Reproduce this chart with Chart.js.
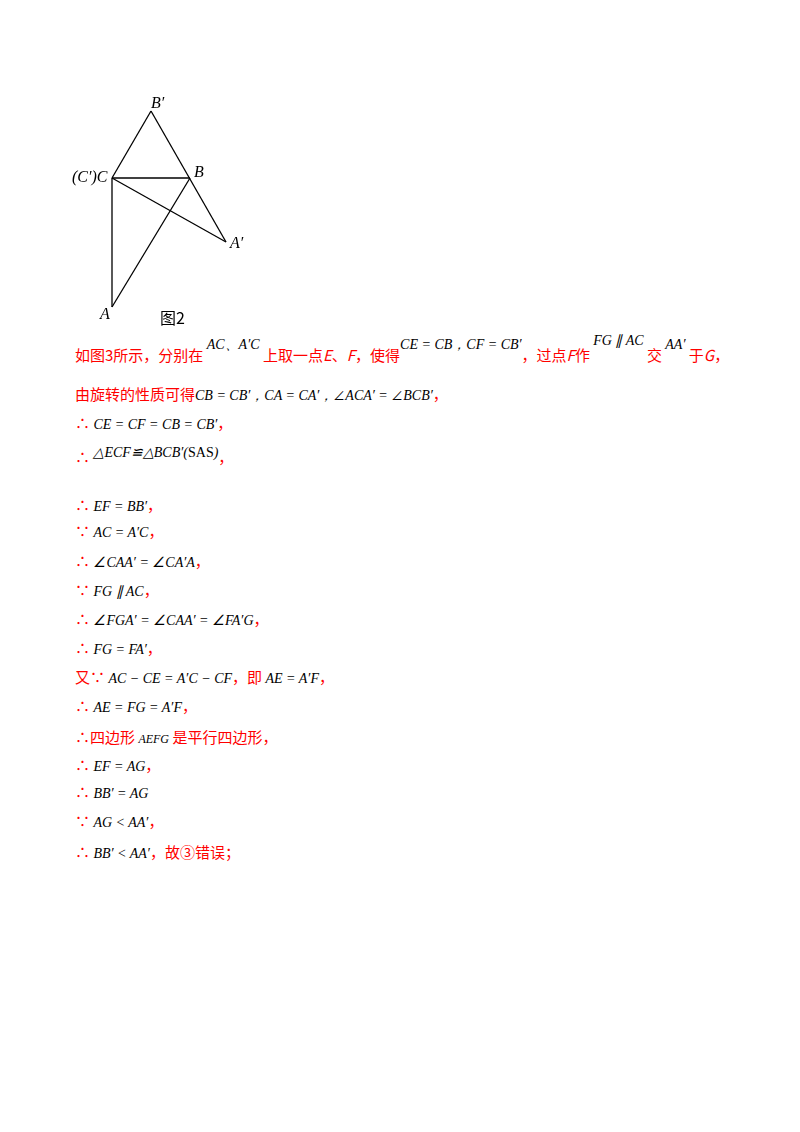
<!DOCTYPE html>
<html><head><meta charset="utf-8">
<script src="https://cdn.jsdelivr.net/npm/chart.js@4"></script>
<style>
body{margin:0;width:800px;height:1132px;background:#fff;position:relative;font-family:"Noto Sans CJK SC",serif;}
.l{position:absolute;left:75px;color:#f00;font-size:15px;white-space:nowrap;line-height:20px;}
.m{color:#000;font-family:"Liberation Serif",serif;font-style:italic;font-size:14px;}
.up{position:relative;top:-12px;}
.lb{position:absolute;font-family:"Liberation Serif",serif;font-style:italic;font-size:16px;color:#000;}
#wrap{position:absolute;left:60px;top:90px;width:240px;height:240px;}
</style></head><body>
<div id="wrap"><canvas id="fig"></canvas></div>
<div class="lb" style="left:151px;top:94px">B′</div>
<div class="lb" style="left:72px;top:168px">(C′)C</div>
<div class="lb" style="left:194px;top:163px">B</div>
<div class="lb" style="left:230px;top:234px">A′</div>
<div class="lb" style="left:100px;top:305px">A</div>
<div class="lb" style="left:160px;top:305px;font-style:normal;font-family:'Noto Sans CJK SC'">图2</div>

<div class="l" style="top:345px">如图3所示，分别在 <span class="m up">AC、A′C</span> 上取一点<i>E</i>、<i>F</i>，使得<span class="m up">CE = CB，CF = CB′</span>，过点<i>F</i>作 <span class="m up" style="top:-16px">FG ∥ AC</span> 交 <span class="m up">AA′</span> 于<i>G</i>，</div>
<div class="l" style="top:384px">由旋转的性质可得<span class="m">CB = CB′，CA = CA′，∠ACA′ = ∠BCB′</span>，</div>
<div class="l" style="top:413px">∴ <span class="m">CE = CF = CB = CB′</span>，</div>
<div class="l" style="top:447px">∴ <span class="m up" style="top:-6px">△ECF≌△BCB′(<span style="font-style:normal">SAS</span>)</span>，</div>
<div class="l" style="top:495px">∴ <span class="m">EF = BB′</span>，</div>
<div class="l" style="top:521px">∵ <span class="m">AC = A′C</span>，</div>
<div class="l" style="top:551px">∴ <span class="m">∠CAA′ = ∠CA′A</span>，</div>
<div class="l" style="top:580px">∵ <span class="m">FG ∥ AC</span>，</div>
<div class="l" style="top:609px">∴ <span class="m">∠FGA′ = ∠CAA′ = ∠FA′G</span>，</div>
<div class="l" style="top:638px">∴ <span class="m">FG = FA′</span>，</div>
<div class="l" style="top:667px">又∵ <span class="m">AC − CE = A′C − CF</span>，即 <span class="m">AE = A′F</span>，</div>
<div class="l" style="top:696px">∴ <span class="m">AE = FG = A′F</span>，</div>
<div class="l" style="top:727px">∴四边形 <span class="m" style="font-size:12px">AEFG</span> 是平行四边形，</div>
<div class="l" style="top:755px">∴ <span class="m">EF = AG</span>，</div>
<div class="l" style="top:782px">∴ <span class="m">BB′ = AG</span></div>
<div class="l" style="top:811px">∵ <span class="m">AG &lt; AA′</span>，</div>
<div class="l" style="top:842px">∴ <span class="m">BB′ &lt; AA′</span>，故③错误；</div>
<script>
// figure points (x, y in page pixels)
var ptB1 = {x: 151, y: 111};
var ptC = {x: 112, y: 178};
var ptB = {x: 190, y: 178};
var ptA1 = {x: 226, y: 242};
var ptA = {x: 112, y: 307};
var segments = [
    [ptC, ptB1], [ptB1, ptA1], [ptC, ptB], [ptC, ptA1], [ptC, ptA], [ptA, ptB]
];

new Chart(document.getElementById('fig'), {
    type: 'scatter',
    data: {
        datasets: segments.map(function (s) {
            return { data: s, showLine: true, borderColor: '#000', borderWidth: 1.3, pointRadius: 0 };
        })
    },
    options: {
        responsive: true,
        maintainAspectRatio: false,
        animation: false,
        layout: { padding: 0 },
        plugins: { legend: { display: false }, tooltip: { enabled: false } },
        scales: {
            x: { display: false, min: 60, max: 300 },
            y: { display: false, min: 90, max: 330, reverse: true }
        }
    }
});
</script>
</body></html>
